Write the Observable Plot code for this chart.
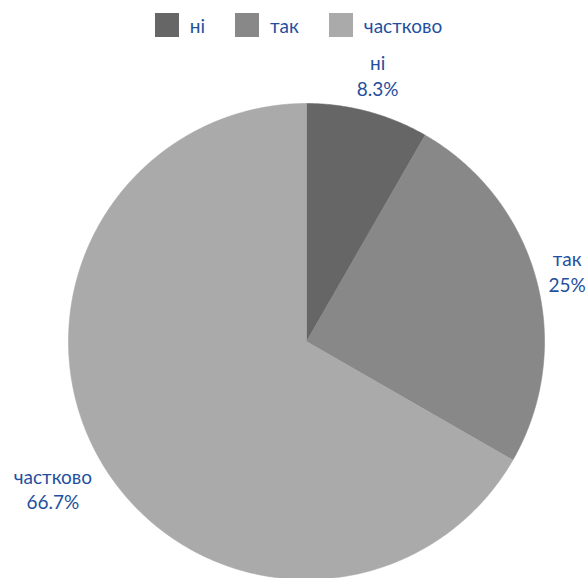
<!DOCTYPE html>
<html>
<head>
<meta charset="utf-8">
<script src="https://cdn.jsdelivr.net/npm/d3@7"></script>
<script src="https://cdn.jsdelivr.net/npm/@observablehq/plot@0.6"></script>
<style>
  html, body { margin: 0; padding: 0; background: #fff; }
  body { width: 587px; height: 578px; overflow: hidden; font-family: Lato, "Open Sans", sans-serif; }
  figure { margin: 0; }
  #chart .pie-swatches {
    display: flex; justify-content: center; align-items: center;
    height: 50px; min-height: 50px; margin: 0; padding-left: 10px;
    font-family: Lato, "Open Sans", sans-serif; font-size: 19px; color: #23509e;
  }
  #chart .pie-swatch { margin-right: 30px; }
  #chart .pie-swatch:last-child { margin-right: 0; }
  #chart .pie-swatch > svg { margin-right: 11px; }
  #chart svg.pie { display: block; }
</style>
</head>
<body>
<div id="chart"></div>
<script>
const categories = ["ні", "так", "частково"];
const values = [8.3, 25, 66.7];
const colors = ["#666666", "#888888", "#aaaaaa"];

const W = 587, H = 528, R = 238, CX = 306, CY = 291;
const FONT_SIZE = 19, LINE_HEIGHT = 1.35, FONT = "Lato, 'Open Sans', sans-serif";
const LABEL_CLEAR = 246; // px: label boxes keep clear of this circle

const slices = d3.pie().sort(null).value(d => d.value)(
  categories.map((name, i) => ({name, value: values[i]}))
);

// polygon outline of each slice in unit-radius coordinates (y up)
const outline = [];
for (const s of slices) {
  const name = s.data.name;
  outline.push({name, x: 0, y: 0});
  const steps = Math.max(2, Math.ceil((s.endAngle - s.startAngle) / (Math.PI / 360)));
  for (let k = 0; k <= steps; ++k) {
    const a = s.startAngle + (s.endAngle - s.startAngle) * k / steps;
    outline.push({name, x: Math.sin(a), y: Math.cos(a)});
  }
  outline.push({name, x: 0, y: 0});
}

// text measurement for label placement
const ctx = document.createElement("canvas").getContext("2d");
ctx.font = `${FONT_SIZE}px ${FONT}`;

const labels = slices.map(s => {
  const a = (s.startAngle + s.endAngle) / 2;
  const name = s.data.name;
  const pct = `${s.data.value}%`;
  const w = Math.max(ctx.measureText(name).width, ctx.measureText(pct).width);
  const h = 2 * FONT_SIZE * LINE_HEIGHT;
  const ux = Math.sin(a), uy = Math.cos(a);
  // push the label box outward along its ray until it clears the circle
  let t = LABEL_CLEAR;
  for (; t < 600; t += 0.5) {
    const cx = t * ux, cy = t * uy;
    const nx = Math.max(cx - w / 2, Math.min(0, cx + w / 2));
    const ny = Math.max(cy - h / 2, Math.min(0, cy + h / 2));
    if (Math.hypot(nx, ny) >= LABEL_CLEAR) break;
  }
  return {name, text: `${name}\n${pct}`, x: t * ux / R, y: t * uy / R};
});

const chart = Plot.plot({
  width: W,
  height: H,
  margin: 0,
  className: "pie",
  style: {background: "#fff", overflow: "hidden"},
  x: {domain: [-CX / R, (W - CX) / R], range: [0, W], axis: null},
  y: {domain: [-(H - CY) / R, CY / R], range: [H, 0], axis: null},
  color: {domain: categories, range: colors, legend: true, swatchSize: 24},
  marks: [
    Plot.line(outline, {x: "x", y: "y", z: "name", fill: "name", stroke: "name", strokeWidth: 0.6, curve: "linear"}),
    Plot.text(labels, {
      x: "x", y: "y", text: "text",
      fill: "#23509e", fontSize: FONT_SIZE, lineHeight: LINE_HEIGHT,
      fontFamily: FONT, textAnchor: "middle"
    })
  ]
});
document.getElementById("chart").appendChild(chart);
</script>
</body>
</html>
